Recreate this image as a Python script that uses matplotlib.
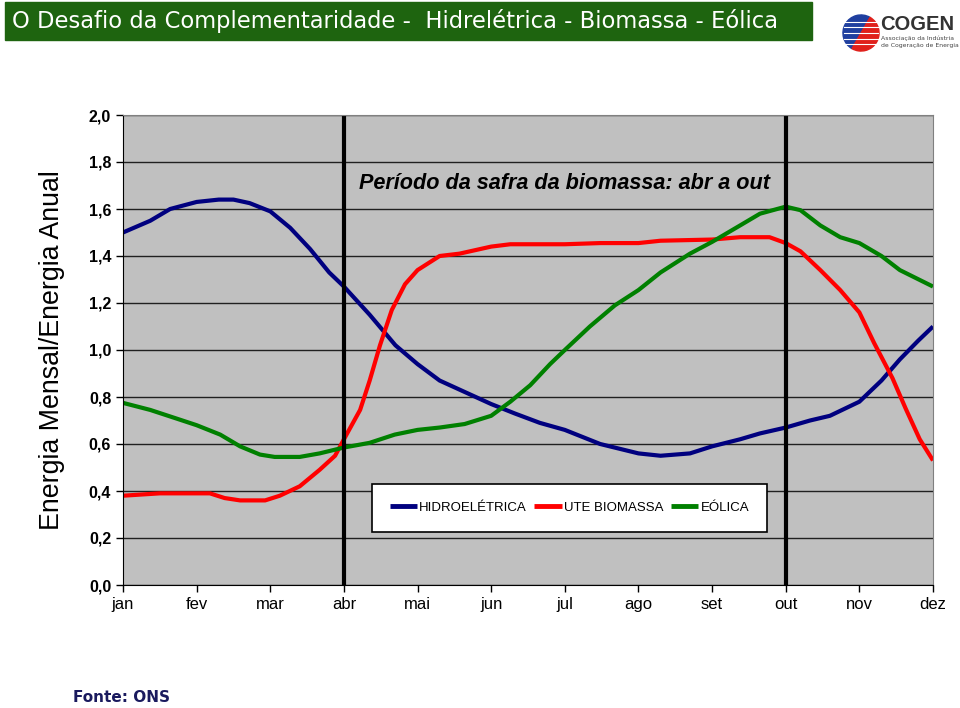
import matplotlib.pyplot as plt
from matplotlib.patches import Rectangle, Wedge

# month index: 0 = jan ... 11 = dez
months = ['jan', 'fev', 'mar', 'abr', 'mai', 'jun', 'jul', 'ago', 'set', 'out', 'nov', 'dez']

hidro_x = [0, 0.37, 0.64, 1.0, 1.3, 1.5, 1.72, 2.0, 2.27, 2.54, 2.8, 3.0, 3.35, 3.7, 4.0,
           4.3, 4.58, 5.0, 5.32, 5.66, 6.0, 6.48, 7.0, 7.3, 7.7, 8.0, 8.38, 8.65, 9.0,
           9.33, 9.6, 10.0, 10.3, 10.55, 10.8, 11.0]
hidro_y = [1.50, 1.55, 1.60, 1.63, 1.64, 1.64, 1.625, 1.59, 1.52, 1.43, 1.33, 1.27, 1.15, 1.02, 0.94,
           0.87, 0.83, 0.77, 0.73, 0.69, 0.66, 0.60, 0.56, 0.55, 0.56, 0.59, 0.62, 0.645, 0.67,
           0.70, 0.72, 0.78, 0.87, 0.96, 1.04, 1.10]

bio_x = [0, 0.5, 1.18, 1.38, 1.59, 1.93, 2.13, 2.4, 2.67, 2.88, 3.0, 3.22, 3.35, 3.49, 3.65,
         3.83, 4.0, 4.3, 4.57, 5.0, 5.26, 6.0, 6.48, 7.0, 7.3, 8.0, 8.38, 8.78, 9.0, 9.2,
         9.47, 9.74, 10.0, 10.2, 10.45, 10.63, 10.82, 11.0]
bio_y = [0.38, 0.39, 0.39, 0.37, 0.36, 0.36, 0.38, 0.42, 0.49, 0.55, 0.62, 0.745, 0.87, 1.02, 1.17,
         1.28, 1.34, 1.40, 1.41, 1.44, 1.45, 1.45, 1.455, 1.455, 1.465, 1.47, 1.48, 1.48, 1.455, 1.42,
         1.34, 1.255, 1.16, 1.03, 0.88, 0.75, 0.62, 0.53]

eol_x = [0, 0.37, 0.71, 1.0, 1.32, 1.59, 1.86, 2.06, 2.4, 2.67, 3.0, 3.35, 3.69, 4.0, 4.3,
         4.64, 5.0, 5.26, 5.53, 5.8, 6.0, 6.34, 6.68, 7.0, 7.3, 7.7, 8.0, 8.38, 8.65, 9.0,
         9.2, 9.47, 9.74, 10.0, 10.3, 10.55, 11.0]
eol_y = [0.775, 0.745, 0.71, 0.68, 0.64, 0.59, 0.555, 0.545, 0.545, 0.56, 0.585, 0.605, 0.64, 0.66, 0.67,
         0.685, 0.72, 0.78, 0.85, 0.94, 1.0, 1.10, 1.19, 1.255, 1.33, 1.41, 1.46, 1.53, 1.58, 1.61,
         1.595, 1.53, 1.48, 1.455, 1.40, 1.34, 1.27]

series = [('HIDROELÉTRICA', hidro_x, hidro_y, '#00007F'),
          ('UTE BIOMASSA', bio_x, bio_y, '#FF0000'),
          ('EÓLICA', eol_x, eol_y, '#008000')]

arial = ['Liberation Sans', 'DejaVu Sans']

fig = plt.figure(figsize=(9.6, 7.08), dpi=100)

# header bar
fig.patches.append(Rectangle((5 / 960, 1 - 40 / 708), 807 / 960, 38 / 708,
                             transform=fig.transFigure, color='#1E640F', zorder=0))
fig.text(12 / 960, 1 - 21 / 708,
         'O Desafio da Complementaridade -  Hidrelétrica - Biomassa - Eólica',
         color='white', fontsize=16.3, va='center', ha='left', family='DejaVu Sans')

# logo (rough)
lax = fig.add_axes([842 / 960, 1 - 52 / 708, 38 / 960, 38 / 708])
lax.set_xlim(-1, 1)
lax.set_ylim(-1, 1)
lax.axis('off')
lax.add_patch(Wedge((0, 0), 0.95, 60, 240, color='#1F3F9F'))
lax.add_patch(Wedge((0, 0), 0.95, 240, 420, color='#E0201B'))
for yy in [-0.6, -0.3, 0.0, 0.3, 0.6]:
    lax.plot([-0.9, 0.9], [yy, yy], color='white', lw=0.8)
fig.text(880 / 960, 1 - 25 / 708, 'COGEN', fontsize=14.5, fontweight='bold',
         color='#333333', va='center', family=arial)
fig.text(881 / 960, 1 - 38 / 708, 'Associação da Indústria', fontsize=4.4,
         color='#444444', va='center')
fig.text(881 / 960, 1 - 45 / 708, 'de Cogeração de Energia', fontsize=4.4,
         color='#444444', va='center')

ax = fig.add_axes([123 / 960, 1 - 585 / 708, 810 / 960, 470 / 708])
ax.set_facecolor('#C0C0C0')
ax.set_xlim(0, 11)
ax.set_ylim(0, 2.0)

yt = [i * 0.2 for i in range(11)]
ax.set_yticks(yt)
ax.set_yticklabels([('%.1f' % v).replace('.', ',') for v in yt],
                   fontsize=11.5, fontweight='bold', family=arial)
ax.set_xticks(range(12))
ax.set_xticklabels(months, fontsize=12, family=arial)
ax.tick_params(axis='both', length=5, width=1, color='black')
ax.grid(axis='y', color='#202020', lw=1)
ax.set_axisbelow(True)
for s in ['top', 'right']:
    ax.spines[s].set_color('#808080')
for s in ['left', 'bottom']:
    ax.spines[s].set_color('black')

for name, xs, ys, c in series:
    ax.plot(xs, ys, color=c, lw=3, label=name, solid_capstyle='butt')

ax.axvline(3, color='black', lw=3)
ax.axvline(9, color='black', lw=3)

ax.text(6.0, 1.71, 'Período da safra da biomassa: abr a out', ha='center', va='center',
        fontsize=15.6, fontweight='bold', fontstyle='italic', family=arial,
        bbox=dict(facecolor='#C0C0C0', edgecolor='none', pad=2))

ax.set_ylabel('Energia Mensal/Energia Anual', fontsize=19.3, family=arial, labelpad=17)

leg = ax.legend(loc='center', bbox_to_anchor=(0.551, 0.164),
                ncol=3, frameon=True, fancybox=False, edgecolor='black', framealpha=1,
                prop={'family': arial, 'size': 9.5}, handlelength=2.1, handletextpad=0.15,
                borderpad=1.35, borderaxespad=0, columnspacing=0.55)
leg.get_frame().set_linewidth(1.2)
for h in leg.get_lines():
    h.set_linewidth(3.5)

fig.text(73 / 960, 1 - 698 / 708, 'Fonte: ONS', fontsize=11, fontweight='bold',
         color='#1A1A5E', va='center', family='DejaVu Sans')

fig.savefig('out.png', dpi=100)
